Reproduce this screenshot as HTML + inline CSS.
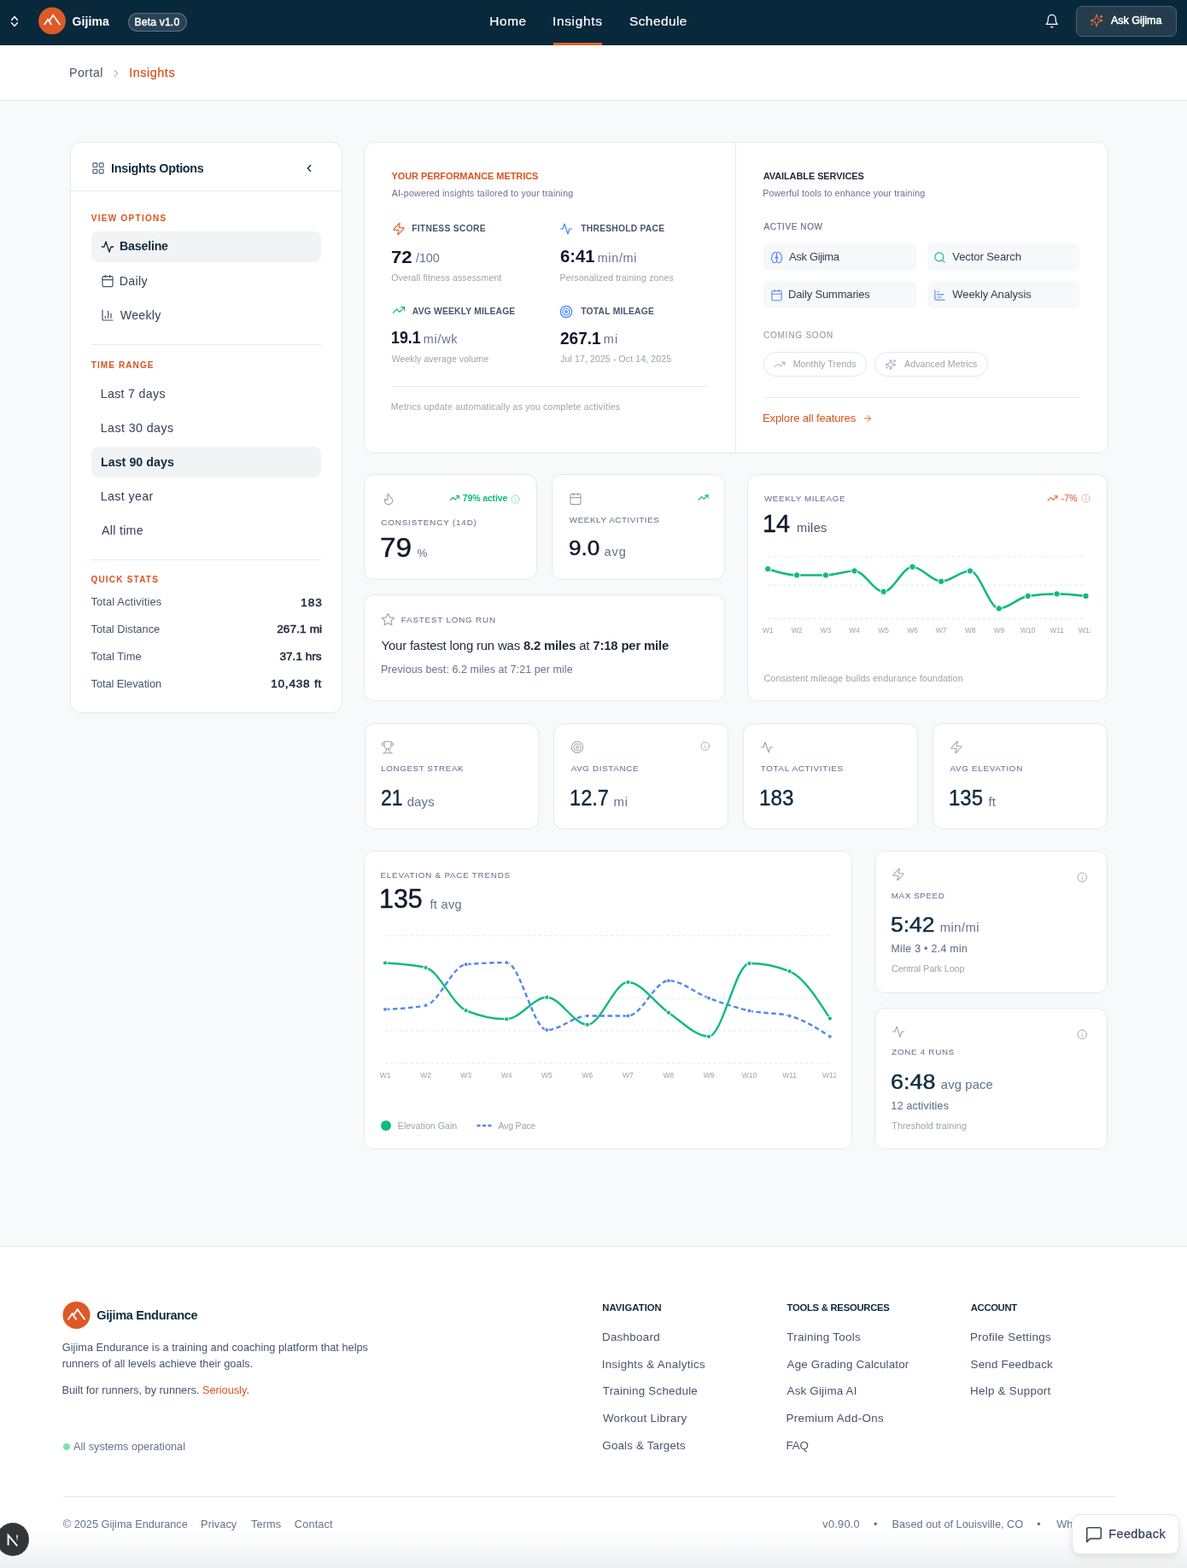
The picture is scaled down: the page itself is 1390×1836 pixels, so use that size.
<!DOCTYPE html><html><head><meta charset="utf-8"><title>Gijima Insights</title><style>
*{margin:0;padding:0;box-sizing:border-box}
html,body{width:1390px;height:1836px;overflow:hidden}
body{position:relative;background:#f8f9fb;font-family:"Liberation Sans", Arial, sans-serif;-webkit-font-smoothing:antialiased}
.t{position:absolute;line-height:1;white-space:nowrap}
.b{position:absolute}
.i{position:absolute;display:block}
b{font-weight:700}
</style></head><body>
<div class="b" style="left:0px;top:0px;width:1390px;height:53px;background:#08283c;"></div>
<svg class="i" style="left:0;top:0" width="100" height="53" viewBox="0 0 100 53" fill="none"><path d="M13.6 23.4 17 19.6l3.4 3.8M13.6 26.8 17 30.6l3.4-3.8" stroke="#fff" stroke-width="1.45" stroke-linecap="round" stroke-linejoin="round"/><circle cx="61" cy="24.4" r="15.9" fill="#dc5a28"/><path d="M51.8 29.1 56.1 22.9 60.3 29.1M57.5 24.8 62.2 17.8 70.2 29.1" stroke="#fff" stroke-width="1.75" stroke-linecap="butt" stroke-linejoin="miter"/></svg>
<div class="t" style="left:84.44px;top:17.55px;font-size:14px;color:#fff;font-weight:700;letter-spacing:0.13px;">Gijima</div>
<div class="b" style="left:150px;top:15px;width:69px;height:22px;border:1px solid rgba(255,255,255,.26);background:rgba(255,255,255,.13);border-radius:11px;"></div>
<div class="t" style="left:157.52px;top:19.87px;font-size:12.2px;color:#fff;font-weight:400;letter-spacing:0.145px;-webkit-text-stroke:0.45px #fff;">Beta v1.0</div>
<div class="t" style="left:573.37px;top:16.86px;font-size:15.4px;color:#fff;font-weight:400;letter-spacing:0.561px;-webkit-text-stroke:0.2px #fff;">Home</div>
<div class="t" style="left:646.91px;top:16.86px;font-size:15.4px;color:#fff;font-weight:400;letter-spacing:0.71px;-webkit-text-stroke:0.2px #fff;">Insights</div>
<div class="t" style="left:737.01px;top:16.86px;font-size:15.4px;color:#fff;font-weight:400;letter-spacing:0.453px;-webkit-text-stroke:0.2px #fff;">Schedule</div>
<div class="b" style="left:648px;top:49.5px;width:57px;height:3.5px;background:#e0602a;"></div>
<svg class="i" style="left:1222.8px;top:15.8px;" width="17.5" height="17.5" viewBox="0 0 24 24" fill="none" stroke="#fff" stroke-width="1.7" stroke-linecap="round" stroke-linejoin="round"><path d="M6 8a6 6 0 0 1 12 0c0 7 3 9 3 9H3s3-2 3-9"/><path d="M10.3 21a1.94 1.94 0 0 0 3.4 0"/></svg>
<div class="b" style="left:1260px;top:6.5px;width:118px;height:36.0px;background:#243c4c;border:1px solid #4e6270;border-radius:7px;"></div>
<svg class="i" style="left:1276px;top:16.2px;" width="16.2" height="16.2" viewBox="0 0 24 24" fill="none" stroke="#ee7a3c" stroke-width="1.5" stroke-linecap="round" stroke-linejoin="round"><path d="M9.937 15.5A2 2 0 0 0 8.5 14.063l-6.135-1.582a.5.5 0 0 1 0-.962L8.5 9.936A2 2 0 0 0 9.937 8.5l1.582-6.135a.5.5 0 0 1 .963 0L14.063 8.5A2 2 0 0 0 15.5 9.937l6.135 1.581a.5.5 0 0 1 0 .964L15.5 14.063a2 2 0 0 0-1.437 1.437l-1.582 6.135a.5.5 0 0 1-.963 0z"/><path d="M20 3v4M22 5h-4M4 17v2M5 18H3"/></svg>
<div class="t" style="left:1301.00px;top:17.83px;font-size:12.6px;color:#fff;font-weight:400;letter-spacing:-0.074px;-webkit-text-stroke:0.5px #fff;">Ask Gijima</div>
<div class="b" style="left:0px;top:53px;width:1390px;height:65px;background:#fff;border-bottom:1px solid #e5e7eb;"></div>
<div class="t" style="left:80.96px;top:77.88px;font-size:14.2px;color:#475569;font-weight:400;letter-spacing:0.479px;">Portal</div>
<svg class="i" style="left:129px;top:78.6px;" width="14" height="14" viewBox="0 0 24 24" fill="none" stroke="#94a3b8" stroke-width="1.8" stroke-linecap="round" stroke-linejoin="round"><path d="m9 18 6-6-6-6"/></svg>
<div class="t" style="left:151.30px;top:77.71px;font-size:14.4px;color:#d9541e;font-weight:400;letter-spacing:0.527px;-webkit-text-stroke:0.25px #d9541e;">Insights</div>
<div class="b" style="left:82px;top:166px;width:319px;height:669px;background:#fff;border:1px solid #e6e8ec;border-radius:12px;box-sizing:border-box;"></div>
<div class="b" style="left:83px;top:223px;width:317px;height:1px;background:#e8eaee;"></div>
<svg class="i" style="left:106.5px;top:188.5px;" width="16" height="16" viewBox="0 0 24 24" fill="none" stroke="#64748b" stroke-width="2" stroke-linecap="round" stroke-linejoin="round"><rect x="3" y="3" width="7" height="7" rx="1"/><rect x="14" y="3" width="7" height="7" rx="1"/><rect x="14" y="14" width="7" height="7" rx="1"/><rect x="3" y="14" width="7" height="7" rx="1"/></svg>
<div class="t" style="left:130.06px;top:189.91px;font-size:14.4px;color:#0f2a3d;font-weight:700;letter-spacing:-0.32px;">Insights Options</div>
<svg class="i" style="left:355px;top:190px;" width="14" height="14" viewBox="0 0 24 24" fill="none" stroke="#0f2a3d" stroke-width="2.2" stroke-linecap="round" stroke-linejoin="round"><path d="m15 18-6-6 6-6"/></svg>
<div class="t" style="left:106.75px;top:250.53px;font-size:10px;color:#d9541e;font-weight:700;letter-spacing:1.282px;">VIEW OPTIONS</div>
<div class="b" style="left:107px;top:271px;width:269px;height:36px;background:#f2f3f5;border-radius:8px;"></div>
<svg class="i" style="left:117.5px;top:281px;" width="16" height="16" viewBox="0 0 24 24" fill="none" stroke="#0f2a3d" stroke-width="2" stroke-linecap="round" stroke-linejoin="round"><path d="M22 12h-4l-3 9L9 3l-3 9H2"/></svg>
<div class="t" style="left:139.98px;top:281.48px;font-size:14.2px;color:#0f2a3d;font-weight:700;letter-spacing:-0.188px;">Baseline</div>
<svg class="i" style="left:117.5px;top:321.3px;" width="16" height="16" viewBox="0 0 24 24" fill="none" stroke="#475569" stroke-width="1.8" stroke-linecap="round" stroke-linejoin="round"><rect x="3" y="4" width="18" height="18" rx="2"/><path d="M16 2v4M8 2v4M3 10h18"/></svg>
<div class="t" style="left:139.76px;top:321.78px;font-size:14.2px;color:#334155;font-weight:400;letter-spacing:0.31px;">Daily</div>
<svg class="i" style="left:117.5px;top:361.3px;" width="16" height="16" viewBox="0 0 24 24" fill="none" stroke="#475569" stroke-width="1.8" stroke-linecap="round" stroke-linejoin="round"><path d="M3 3v16a2 2 0 0 0 2 2h16"/><path d="M18 17V9M13 17V5M8 17v-3"/></svg>
<div class="t" style="left:140.83px;top:361.78px;font-size:14.2px;color:#334155;font-weight:400;letter-spacing:0.256px;">Weekly</div>
<div class="b" style="left:107px;top:403px;width:269px;height:1px;background:#e8eaee;"></div>
<div class="t" style="left:106.70px;top:422.54px;font-size:10px;color:#d9541e;font-weight:700;letter-spacing:1.111px;">TIME RANGE</div>
<div class="b" style="left:107px;top:523.4px;width:269px;height:35.200000000000045px;background:#f2f3f5;border-radius:8px;"></div>
<div class="t" style="left:117.76px;top:454.18px;font-size:14.2px;color:#334155;font-weight:400;letter-spacing:0.32px;">Last 7 days</div>
<div class="t" style="left:117.76px;top:494.18px;font-size:14.2px;color:#334155;font-weight:400;letter-spacing:0.438px;">Last 30 days</div>
<div class="t" style="left:117.98px;top:534.18px;font-size:14.2px;color:#0f2a3d;font-weight:700;letter-spacing:0.063px;">Last 90 days</div>
<div class="t" style="left:117.76px;top:574.18px;font-size:14.2px;color:#334155;font-weight:400;letter-spacing:0.398px;">Last year</div>
<div class="t" style="left:118.90px;top:614.18px;font-size:14.2px;color:#334155;font-weight:400;letter-spacing:0.319px;">All time</div>
<div class="b" style="left:107px;top:655px;width:269px;height:1px;background:#e8eaee;"></div>
<div class="t" style="left:106.40px;top:674.24px;font-size:10px;color:#d9541e;font-weight:700;letter-spacing:1.215px;">QUICK STATS</div>
<div class="t" style="left:106.54px;top:699.18px;font-size:12.9px;color:#475569;font-weight:400;letter-spacing:0.113px;">Total Activities</div>
<div class="t" style="right:1012.30px;top:698.59px;font-size:13.6px;color:#1e293b;font-weight:400;letter-spacing:0.91px;-webkit-text-stroke:0.55px #1e293b;">183</div>
<div class="t" style="left:106.54px;top:731.08px;font-size:12.9px;color:#475569;font-weight:400;letter-spacing:-0.021px;">Total Distance</div>
<div class="t" style="right:1012.79px;top:730.49px;font-size:13.6px;color:#1e293b;font-weight:400;letter-spacing:0.115px;-webkit-text-stroke:0.55px #1e293b;">267.1 mi</div>
<div class="t" style="left:106.54px;top:763.08px;font-size:12.9px;color:#475569;font-weight:400;letter-spacing:0.042px;">Total Time</div>
<div class="t" style="right:1013.34px;top:762.49px;font-size:13.6px;color:#1e293b;font-weight:400;letter-spacing:0.008px;-webkit-text-stroke:0.55px #1e293b;">37.1 hrs</div>
<div class="t" style="left:106.54px;top:794.78px;font-size:12.9px;color:#475569;font-weight:400;letter-spacing:-0.087px;">Total Elevation</div>
<div class="t" style="right:1012.93px;top:794.19px;font-size:13.6px;color:#1e293b;font-weight:400;letter-spacing:0.773px;-webkit-text-stroke:0.55px #1e293b;">10,438 ft</div>
<div class="b" style="left:426px;top:166px;width:872px;height:365px;background:#fff;border:1px solid #e6e8ec;border-radius:12px;box-sizing:border-box;"></div>
<div class="b" style="left:861px;top:167px;width:1px;height:363px;background:#e8eaee;"></div>
<div class="t" style="left:458.48px;top:201.39px;font-size:11px;color:#d9541e;font-weight:700;letter-spacing:-0.07px;">YOUR PERFORMANCE METRICS</div>
<div class="t" style="left:458.70px;top:220.94px;font-size:10.7px;color:#64748b;font-weight:400;letter-spacing:0.158px;">AI-powered insights tailored to your training</div>
<svg class="i" style="left:458.6px;top:259.5px;" width="16" height="16" viewBox="0 0 24 24" fill="none" stroke="#e8663a" stroke-width="1.8" stroke-linecap="round" stroke-linejoin="round"><path d="M4 14a1 1 0 0 1-.78-1.63l9.9-10.2a.5.5 0 0 1 .86.46l-1.92 6.02A1 1 0 0 0 13 10h7a1 1 0 0 1 .78 1.63l-9.9 10.2a.5.5 0 0 1-.86-.46l1.92-6.02A1 1 0 0 0 11 14z"/></svg>
<div class="t" style="left:482.13px;top:262.98px;font-size:10.3px;color:#475569;font-weight:700;letter-spacing:0.289px;">FITNESS SCORE</div>
<div class="t" style="left:457.81px;top:289.62px;font-size:21px;color:#0f172a;font-weight:700;transform:scaleX(1.0541);transform-origin:0 0;">72</div>
<div class="t" style="left:487.00px;top:295.21px;font-size:14.4px;color:#64748b;font-weight:400;letter-spacing:-0.068px;">/100</div>
<div class="t" style="left:458.23px;top:320.11px;font-size:10.5px;color:#9ca3af;font-weight:400;letter-spacing:0.144px;">Overall fitness assessment</div>
<svg class="i" style="left:655.3px;top:259.5px;" width="16" height="16" viewBox="0 0 24 24" fill="none" stroke="#3b82f6" stroke-width="1.8" stroke-linecap="round" stroke-linejoin="round"><path d="M22 12h-4l-3 9L9 3l-3 9H2"/></svg>
<div class="t" style="left:680.30px;top:262.78px;font-size:10.3px;color:#475569;font-weight:700;letter-spacing:0.231px;">THRESHOLD PACE</div>
<div class="t" style="left:655.59px;top:289.42px;font-size:21px;color:#0f172a;font-weight:700;transform:scaleX(0.9671);transform-origin:0 0;">6:41</div>
<div class="t" style="left:699.66px;top:295.01px;font-size:14.4px;color:#64748b;font-weight:400;letter-spacing:0.687px;">min/mi</div>
<div class="t" style="left:655.46px;top:320.11px;font-size:10.5px;color:#9ca3af;font-weight:400;letter-spacing:0.17px;">Personalized training zones</div>
<svg class="i" style="left:458.6px;top:355px;" width="16" height="16" viewBox="0 0 24 24" fill="none" stroke="#10b981" stroke-width="1.8" stroke-linecap="round" stroke-linejoin="round"><path d="M22 7 13.5 15.5 8.5 10.5 2 17"/><path d="M16 7h6v6"/></svg>
<div class="t" style="left:482.84px;top:360.08px;font-size:10.3px;color:#475569;font-weight:700;letter-spacing:0.195px;">AVG WEEKLY MILEAGE</div>
<div class="t" style="left:457.73px;top:384.42px;font-size:21px;color:#0f172a;font-weight:700;transform:scaleX(0.8474);transform-origin:0 0;">19.1</div>
<div class="t" style="left:495.76px;top:390.01px;font-size:14.4px;color:#64748b;font-weight:400;letter-spacing:0.761px;">mi/wk</div>
<div class="t" style="left:458.75px;top:414.91px;font-size:10.5px;color:#9ca3af;font-weight:400;letter-spacing:0.07px;">Weekly average volume</div>
<svg class="i" style="left:655.3px;top:356.5px;" width="16" height="16" viewBox="0 0 24 24" fill="none" stroke="#3b82f6" stroke-width="1.8" stroke-linecap="round" stroke-linejoin="round"><circle cx="12" cy="12" r="10"/><circle cx="12" cy="12" r="6"/><circle cx="12" cy="12" r="2"/></svg>
<div class="t" style="left:680.30px;top:359.68px;font-size:10.3px;color:#475569;font-weight:700;letter-spacing:0.216px;">TOTAL MILEAGE</div>
<div class="t" style="left:655.63px;top:384.52px;font-size:21px;color:#0f172a;font-weight:700;transform:scaleX(0.9075);transform-origin:0 0;">267.1</div>
<div class="t" style="left:706.76px;top:390.11px;font-size:14.4px;color:#64748b;font-weight:400;letter-spacing:1.28px;">mi</div>
<div class="t" style="left:656.14px;top:415.21px;font-size:10.5px;color:#9ca3af;font-weight:400;letter-spacing:0.125px;">Jul 17, 2025 - Oct 14, 2025</div>
<div class="b" style="left:458px;top:452px;width:371px;height:1px;background:#eceef1;"></div>
<div class="t" style="left:457.86px;top:470.91px;font-size:10.5px;color:#9ca3af;font-weight:400;letter-spacing:0.233px;">Metrics update automatically as you complete activities</div>
<div class="t" style="left:893.73px;top:201.49px;font-size:11px;color:#1e293b;font-weight:700;letter-spacing:-0.096px;">AVAILABLE SERVICES</div>
<div class="t" style="left:893.14px;top:221.14px;font-size:10.7px;color:#64748b;font-weight:400;letter-spacing:0.14px;">Powerful tools to enhance your training</div>
<div class="t" style="left:894.40px;top:260.84px;font-size:10px;color:#64748b;font-weight:400;letter-spacing:0.578px;-webkit-text-stroke:0.2px #64748b;">ACTIVE NOW</div>
<div class="b" style="left:894.4px;top:285.4px;width:178.5000000000001px;height:31.5px;background:#f7f8fa;border-radius:7px;"></div>
<svg class="i" style="left:901.9px;top:293.9px;" width="15" height="15" viewBox="0 0 24 24" fill="none" stroke="#5b8def" stroke-width="1.8" stroke-linecap="round" stroke-linejoin="round"><path d="M12 5a3 3 0 1 0-5.997.125 4 4 0 0 0-2.526 5.77 4 4 0 0 0 .556 6.588A4 4 0 1 0 12 18Z"/><path d="M12 5a3 3 0 1 1 5.997.125 4 4 0 0 1 2.526 5.77 4 4 0 0 1-.556 6.588A4 4 0 1 1 12 18Z"/><path d="M15 13a4.5 4.5 0 0 1-3-4 4.5 4.5 0 0 1-3 4"/><path d="M12 5v13"/></svg>
<div class="t" style="left:924.00px;top:294.40px;font-size:13px;color:#334155;font-weight:400;letter-spacing:-0.342px;">Ask Gijima</div>
<div class="b" style="left:1085.8px;top:285.4px;width:178.5px;height:31.5px;background:#f7f8fa;border-radius:7px;"></div>
<svg class="i" style="left:1093.3px;top:293.9px;" width="15" height="15" viewBox="0 0 24 24" fill="none" stroke="#10b981" stroke-width="1.8" stroke-linecap="round" stroke-linejoin="round"><circle cx="11" cy="11" r="8"/><path d="m21 21-4.3-4.3"/></svg>
<div class="t" style="left:1115.33px;top:294.40px;font-size:13px;color:#334155;font-weight:400;letter-spacing:-0.086px;">Vector Search</div>
<div class="b" style="left:894.4px;top:329.1px;width:178.5000000000001px;height:31.5px;background:#f7f8fa;border-radius:7px;"></div>
<svg class="i" style="left:901.9px;top:337.6px;" width="15" height="15" viewBox="0 0 24 24" fill="none" stroke="#5b8def" stroke-width="1.8" stroke-linecap="round" stroke-linejoin="round"><rect x="3" y="4" width="18" height="18" rx="2"/><path d="M16 2v4M8 2v4M3 10h18"/></svg>
<div class="t" style="left:922.96px;top:338.10px;font-size:13px;color:#334155;font-weight:400;letter-spacing:-0.166px;">Daily Summaries</div>
<div class="b" style="left:1085.8px;top:329.1px;width:178.5px;height:31.5px;background:#f7f8fa;border-radius:7px;"></div>
<svg class="i" style="left:1093.3px;top:337.6px;" width="15" height="15" viewBox="0 0 24 24" fill="none" stroke="#5b8def" stroke-width="1.8" stroke-linecap="round" stroke-linejoin="round"><path d="M3 3v16a2 2 0 0 0 2 2h16"/><path d="M7 16h8M7 11h12M7 6h3"/></svg>
<div class="t" style="left:1115.33px;top:338.10px;font-size:13px;color:#334155;font-weight:400;letter-spacing:-0.096px;">Weekly Analysis</div>
<div class="t" style="left:893.90px;top:387.74px;font-size:10px;color:#9ca3af;font-weight:400;letter-spacing:0.8px;-webkit-text-stroke:0.2px #9ca3af;">COMING SOON</div>
<div class="b" style="left:894.4px;top:412px;width:120.89999999999998px;height:28.5px;border:1px solid #e5e7eb;border-radius:15px;background:#fff;"></div>
<svg class="i" style="left:906px;top:419.5px;" width="14" height="14" viewBox="0 0 24 24" fill="none" stroke="#94a3b8" stroke-width="1.6" stroke-linecap="round" stroke-linejoin="round"><path d="M22 7 13.5 15.5 8.5 10.5 2 17"/><path d="M16 7h6v6"/></svg>
<div class="t" style="left:928.64px;top:421.24px;font-size:10.7px;color:#9ca3af;font-weight:400;letter-spacing:0.069px;">Monthly Trends</div>
<div class="b" style="left:1023.9px;top:412px;width:133.19999999999993px;height:28.5px;border:1px solid #e5e7eb;border-radius:15px;background:#fff;"></div>
<svg class="i" style="left:1036px;top:419.5px;" width="14" height="14" viewBox="0 0 24 24" fill="none" stroke="#94a3b8" stroke-width="1.6" stroke-linecap="round" stroke-linejoin="round"><path d="M9.937 15.5A2 2 0 0 0 8.5 14.063l-6.135-1.582a.5.5 0 0 1 0-.962L8.5 9.936A2 2 0 0 0 9.937 8.5l1.582-6.135a.5.5 0 0 1 .963 0L14.063 8.5A2 2 0 0 0 15.5 9.937l6.135 1.581a.5.5 0 0 1 0 .964L15.5 14.063a2 2 0 0 0-1.437 1.437l-1.582 6.135a.5.5 0 0 1-.963 0z"/><path d="M20 3v4M22 5h-4M4 17v2M5 18H3"/></svg>
<div class="t" style="left:1059.00px;top:421.24px;font-size:10.7px;color:#9ca3af;font-weight:400;letter-spacing:0.034px;">Advanced Metrics</div>
<div class="b" style="left:894px;top:465px;width:371px;height:1px;background:#eceef1;"></div>
<div class="t" style="left:892.95px;top:483.31px;font-size:13.1px;color:#d9541e;font-weight:400;letter-spacing:-0.149px;">Explore all features</div>
<svg class="i" style="left:1010px;top:483.5px;" width="12" height="12" viewBox="0 0 24 24" fill="none" stroke="#d9541e" stroke-width="1.9" stroke-linecap="round" stroke-linejoin="round"><path d="M5 12h14M12 5l7 7-7 7"/></svg>
<div class="b" style="left:426.3px;top:555.4px;width:202.7px;height:123.60000000000002px;background:#fff;border:1px solid #e6e8ec;border-radius:12px;box-sizing:border-box;"></div>
<svg class="i" style="left:446.5px;top:575.5px;" width="16" height="16" viewBox="0 0 24 24" fill="none" stroke="#9ca3af" stroke-width="1.7" stroke-linecap="round" stroke-linejoin="round"><path d="M8.5 14.5A2.5 2.5 0 0 0 11 12c0-1.38-.5-2-1-3-1.072-2.143-.224-4.054 2-6 .5 2.5 2 4.9 4 6.5 2 1.6 3 3.5 3 5.5a7 7 0 1 1-14 0c0-1.153.433-2.294 1-3a2.5 2.5 0 0 0 2.5 2.5z"/></svg>
<svg class="i" style="left:526px;top:577px;" width="12.5" height="12.5" viewBox="0 0 24 24" fill="none" stroke="#10b981" stroke-width="2.2" stroke-linecap="round" stroke-linejoin="round"><path d="M22 7 13.5 15.5 8.5 10.5 2 17"/><path d="M16 7h6v6"/></svg>
<div class="t" style="left:541.78px;top:578.01px;font-size:10.5px;color:#10b981;font-weight:700;letter-spacing:-0.13px;">79% active</div>
<svg class="i" style="left:597.8px;top:579.2px;" width="11.2" height="11.2" viewBox="0 0 24 24" fill="none" stroke="#6ee7b7" stroke-width="1.8" stroke-linecap="round" stroke-linejoin="round"><circle cx="12" cy="12" r="10"/><path d="M12 16v-4M12 8h.01"/></svg>
<div class="t" style="left:446.31px;top:607.10px;font-size:9.8px;color:#64748b;font-weight:400;letter-spacing:0.861px;-webkit-text-stroke:0.05px #64748b;">CONSISTENCY (14D)</div>
<div class="t" style="left:445.23px;top:625.76px;font-size:31px;color:#0f172a;font-weight:400;-webkit-text-stroke:0.45px #0f172a;transform:scaleX(1.0774);transform-origin:0 0;">79</div>
<div class="t" style="left:488.53px;top:640.57px;font-size:13.5px;color:#64748b;font-weight:400;letter-spacing:-0.07px;">%</div>
<div class="b" style="left:646.3px;top:555.4px;width:202.70000000000005px;height:123.60000000000002px;background:#fff;border:1px solid #e6e8ec;border-radius:12px;box-sizing:border-box;"></div>
<svg class="i" style="left:665.5px;top:575.5px;" width="16" height="16" viewBox="0 0 24 24" fill="none" stroke="#9ca3af" stroke-width="1.7" stroke-linecap="round" stroke-linejoin="round"><rect x="3" y="4" width="18" height="18" rx="2"/><path d="M16 2v4M8 2v4M3 10h18"/></svg>
<svg class="i" style="left:816.5px;top:575.5px;" width="13" height="13" viewBox="0 0 24 24" fill="none" stroke="#10b981" stroke-width="2.2" stroke-linecap="round" stroke-linejoin="round"><path d="M22 7 13.5 15.5 8.5 10.5 2 17"/><path d="M16 7h6v6"/></svg>
<div class="t" style="left:666.85px;top:603.70px;font-size:9.8px;color:#64748b;font-weight:400;letter-spacing:0.596px;-webkit-text-stroke:0.05px #64748b;">WEEKLY ACTIVITIES</div>
<div class="t" style="left:665.73px;top:630.41px;font-size:24.8px;color:#0f172a;font-weight:400;-webkit-text-stroke:0.4px #0f172a;transform:scaleX(1.0527);transform-origin:0 0;">9.0</div>
<div class="t" style="left:707.42px;top:639.04px;font-size:14.6px;color:#64748b;font-weight:400;letter-spacing:0.914px;">avg</div>
<div class="b" style="left:426.3px;top:696.3px;width:422.7px;height:125.20000000000005px;background:#fff;border:1px solid #e6e8ec;border-radius:12px;box-sizing:border-box;"></div>
<svg class="i" style="left:445.8px;top:716.5px;" width="17" height="17" viewBox="0 0 24 24" fill="none" stroke="#9ca3af" stroke-width="1.6" stroke-linecap="round" stroke-linejoin="round"><path d="M12 2l3.09 6.26L22 9.27l-5 4.87 1.18 6.88L12 17.77l-6.18 3.25L7 14.14 2 9.27l6.91-1.01L12 2z"/></svg>
<div class="t" style="left:469.82px;top:720.80px;font-size:9.8px;color:#64748b;font-weight:400;letter-spacing:0.824px;-webkit-text-stroke:0.05px #64748b;">FASTEST LONG RUN</div>
<div class="t" style="left:446.53px;top:748.59px;font-size:14.9px;color:#1e293b;font-weight:400;letter-spacing:-0.17px;">Your fastest long run was <b>8.2 miles</b> at <b>7:18 per mile</b></div>
<div class="t" style="left:445.90px;top:777.52px;font-size:12.5px;color:#64748b;font-weight:400;letter-spacing:0.059px;">Previous best: 6.2 miles at 7:21 per mile</div>
<div class="b" style="left:874.5px;top:555.4px;width:422.70000000000005px;height:266.1px;background:#fff;border:1px solid #e6e8ec;border-radius:12px;box-sizing:border-box;"></div>
<div class="t" style="left:894.95px;top:579.20px;font-size:9.8px;color:#64748b;font-weight:400;letter-spacing:0.639px;-webkit-text-stroke:0.05px #64748b;">WEEKLY MILEAGE</div>
<div class="t" style="left:892.83px;top:598.11px;font-size:30px;color:#0f172a;font-weight:400;-webkit-text-stroke:0.45px #0f172a;transform:scaleX(0.9637);transform-origin:0 0;">14</div>
<div class="t" style="left:933.05px;top:611.14px;font-size:14.6px;color:#475569;font-weight:400;letter-spacing:0.317px;">miles</div>
<svg class="i" style="left:1225.8px;top:577.3px;" width="13" height="13" viewBox="0 0 24 24" fill="none" stroke="#e8663a" stroke-width="2.1" stroke-linecap="round" stroke-linejoin="round"><path d="M22 7 13.5 15.5 8.5 10.5 2 17"/><path d="M16 7h6v6"/></svg>
<div class="t" style="left:1242.53px;top:578.11px;font-size:10.5px;color:#e8663a;font-weight:400;letter-spacing:0.225px;-webkit-text-stroke:0.15px #e8663a;">-7%</div>
<svg class="i" style="left:1265.7px;top:577.8px;" width="11" height="11" viewBox="0 0 24 24" fill="none" stroke="#f0a080" stroke-width="1.8" stroke-linecap="round" stroke-linejoin="round"><circle cx="12" cy="12" r="10"/><path d="M12 16v-4M12 8h.01"/></svg>
<div class="b" style="left:880px;top:730.1px;width:396.5px;height:16px;overflow:hidden">
<div class="t" style="left:-0.7999999999999545px;width:40px;text-align:center;top:3.75px;font-size:8.5px;color:#9ca3af">W1</div>
<div class="t" style="left:33.10000000000002px;width:40px;text-align:center;top:3.75px;font-size:8.5px;color:#9ca3af">W2</div>
<div class="t" style="left:66.89999999999998px;width:40px;text-align:center;top:3.75px;font-size:8.5px;color:#9ca3af">W3</div>
<div class="t" style="left:100.5px;width:40px;text-align:center;top:3.75px;font-size:8.5px;color:#9ca3af">W4</div>
<div class="t" style="left:134.70000000000005px;width:40px;text-align:center;top:3.75px;font-size:8.5px;color:#9ca3af">W5</div>
<div class="t" style="left:168.5px;width:40px;text-align:center;top:3.75px;font-size:8.5px;color:#9ca3af">W6</div>
<div class="t" style="left:202.0999999999999px;width:40px;text-align:center;top:3.75px;font-size:8.5px;color:#9ca3af">W7</div>
<div class="t" style="left:236px;width:40px;text-align:center;top:3.75px;font-size:8.5px;color:#9ca3af">W8</div>
<div class="t" style="left:269.79999999999995px;width:40px;text-align:center;top:3.75px;font-size:8.5px;color:#9ca3af">W9</div>
<div class="t" style="left:303.70000000000005px;width:40px;text-align:center;top:3.75px;font-size:8.5px;color:#9ca3af">W10</div>
<div class="t" style="left:337.5999999999999px;width:40px;text-align:center;top:3.75px;font-size:8.5px;color:#9ca3af">W11</div>
<div class="t" style="left:371.5px;width:40px;text-align:center;top:3.75px;font-size:8.5px;color:#9ca3af">W12</div>
</div>
<div class="t" style="left:894.46px;top:788.86px;font-size:10.8px;color:#9ca3af;font-weight:400;letter-spacing:0.06px;">Consistent mileage builds endurance foundation</div>
<div class="b" style="left:426.5px;top:847.1px;width:204.60000000000002px;height:123.5px;background:#fff;border:1px solid #e6e8ec;border-radius:12px;box-sizing:border-box;"></div>
<svg class="i" style="left:446.0px;top:867px;" width="16" height="16" viewBox="0 0 24 24" fill="none" stroke="#9ca3af" stroke-width="1.6" stroke-linecap="round" stroke-linejoin="round"><path d="M6 9H4.5a2.5 2.5 0 0 1 0-5H6M18 9h1.5a2.5 2.5 0 0 0 0-5H18M4 22h16M10 14.66V17c0 .55-.47.98-.97 1.21C7.85 18.75 7 20.24 7 22M14 14.66V17c0 .55.47.98.97 1.21C16.15 18.75 17 20.24 17 22M18 2H6v7a6 6 0 0 0 12 0V2Z"/></svg>
<div class="t" style="left:446.22px;top:894.70px;font-size:9.8px;color:#64748b;font-weight:400;letter-spacing:0.599px;-webkit-text-stroke:0.05px #64748b;">LONGEST STREAK</div>
<div class="t" style="left:445.95px;top:921.34px;font-size:26.3px;color:#0f2a3d;font-weight:400;-webkit-text-stroke:0.4px #0f2a3d;transform:scaleX(0.8728);transform-origin:0 0;">21</div>
<div class="t" style="left:476.70px;top:930.90px;font-size:15px;color:#64748b;font-weight:400;letter-spacing:0.092px;">days</div>
<div class="b" style="left:648.2px;top:847.1px;width:205.0px;height:123.5px;background:#fff;border:1px solid #e6e8ec;border-radius:12px;box-sizing:border-box;"></div>
<svg class="i" style="left:667.7px;top:867px;" width="16" height="16" viewBox="0 0 24 24" fill="none" stroke="#9ca3af" stroke-width="1.6" stroke-linecap="round" stroke-linejoin="round"><circle cx="12" cy="12" r="10"/><circle cx="12" cy="12" r="6"/><circle cx="12" cy="12" r="2"/></svg>
<div class="t" style="left:668.70px;top:894.70px;font-size:9.8px;color:#64748b;font-weight:400;letter-spacing:0.664px;-webkit-text-stroke:0.05px #64748b;">AVG DISTANCE</div>
<div class="t" style="left:667.03px;top:921.34px;font-size:26.3px;color:#0f2a3d;font-weight:400;-webkit-text-stroke:0.4px #0f2a3d;transform:scaleX(0.8983);transform-origin:0 0;">12.7</div>
<div class="t" style="left:718.52px;top:930.90px;font-size:15px;color:#64748b;font-weight:400;letter-spacing:0.625px;">mi</div>
<svg class="i" style="left:820.4000000000001px;top:867.5px;" width="11.5" height="11.5" viewBox="0 0 24 24" fill="none" stroke="#9ca3af" stroke-width="1.8" stroke-linecap="round" stroke-linejoin="round"><circle cx="12" cy="12" r="10"/><path d="M12 16v-4M12 8h.01"/></svg>
<div class="b" style="left:870.4px;top:847.1px;width:204.19999999999993px;height:123.5px;background:#fff;border:1px solid #e6e8ec;border-radius:12px;box-sizing:border-box;"></div>
<svg class="i" style="left:889.9px;top:867px;" width="16" height="16" viewBox="0 0 24 24" fill="none" stroke="#9ca3af" stroke-width="1.6" stroke-linecap="round" stroke-linejoin="round"><path d="M22 12h-4l-3 9L9 3l-3 9H2"/></svg>
<div class="t" style="left:890.70px;top:894.70px;font-size:9.8px;color:#64748b;font-weight:400;letter-spacing:0.706px;-webkit-text-stroke:0.05px #64748b;">TOTAL ACTIVITIES</div>
<div class="t" style="left:889.18px;top:921.34px;font-size:26.3px;color:#0f2a3d;font-weight:400;-webkit-text-stroke:0.4px #0f2a3d;transform:scaleX(0.9224);transform-origin:0 0;">183</div>
<div class="b" style="left:1092.1px;top:847.1px;width:204.9000000000001px;height:123.5px;background:#fff;border:1px solid #e6e8ec;border-radius:12px;box-sizing:border-box;"></div>
<svg class="i" style="left:1111.6px;top:867px;" width="16" height="16" viewBox="0 0 24 24" fill="none" stroke="#9ca3af" stroke-width="1.6" stroke-linecap="round" stroke-linejoin="round"><path d="M4 14a1 1 0 0 1-.78-1.63l9.9-10.2a.5.5 0 0 1 .86.46l-1.92 6.02A1 1 0 0 0 13 10h7a1 1 0 0 1 .78 1.63l-9.9 10.2a.5.5 0 0 1-.86-.46l1.92-6.02A1 1 0 0 0 11 14z"/></svg>
<div class="t" style="left:1112.60px;top:894.70px;font-size:9.8px;color:#64748b;font-weight:400;letter-spacing:0.703px;-webkit-text-stroke:0.05px #64748b;">AVG ELEVATION</div>
<div class="t" style="left:1110.90px;top:921.34px;font-size:26.3px;color:#0f2a3d;font-weight:400;-webkit-text-stroke:0.4px #0f2a3d;transform:scaleX(0.9125);transform-origin:0 0;">135</div>
<div class="t" style="left:1157.58px;top:930.90px;font-size:15px;color:#64748b;font-weight:400;letter-spacing:0.075px;">ft</div>
<div class="b" style="left:425.9px;top:995.9px;width:572.2px;height:349.9px;background:#fff;border:1px solid #e6e8ec;border-radius:12px;box-sizing:border-box;"></div>
<div class="t" style="left:445.52px;top:1019.50px;font-size:9.8px;color:#64748b;font-weight:400;letter-spacing:0.783px;-webkit-text-stroke:0.05px #64748b;">ELEVATION &amp; PACE TRENDS</div>
<div class="t" style="left:444.02px;top:1038.23px;font-size:30.8px;color:#0f172a;font-weight:400;-webkit-text-stroke:0.45px #0f172a;transform:scaleX(0.9866);transform-origin:0 0;">135</div>
<div class="t" style="left:503.38px;top:1051.94px;font-size:14.6px;color:#64748b;font-weight:400;letter-spacing:0.314px;">ft avg</div>
<div class="b" style="left:440px;top:1251.2px;width:538.5px;height:16px;overflow:hidden">
<div class="t" style="left:-9px;width:40px;text-align:center;top:3.75px;font-size:8.5px;color:#9ca3af">W1</div>
<div class="t" style="left:38.5px;width:40px;text-align:center;top:3.75px;font-size:8.5px;color:#9ca3af">W2</div>
<div class="t" style="left:85.60000000000002px;width:40px;text-align:center;top:3.75px;font-size:8.5px;color:#9ca3af">W3</div>
<div class="t" style="left:133.20000000000005px;width:40px;text-align:center;top:3.75px;font-size:8.5px;color:#9ca3af">W4</div>
<div class="t" style="left:180.29999999999995px;width:40px;text-align:center;top:3.75px;font-size:8.5px;color:#9ca3af">W5</div>
<div class="t" style="left:227.79999999999995px;width:40px;text-align:center;top:3.75px;font-size:8.5px;color:#9ca3af">W6</div>
<div class="t" style="left:275.4px;width:40px;text-align:center;top:3.75px;font-size:8.5px;color:#9ca3af">W7</div>
<div class="t" style="left:322.9px;width:40px;text-align:center;top:3.75px;font-size:8.5px;color:#9ca3af">W8</div>
<div class="t" style="left:370px;width:40px;text-align:center;top:3.75px;font-size:8.5px;color:#9ca3af">W9</div>
<div class="t" style="left:417.5px;width:40px;text-align:center;top:3.75px;font-size:8.5px;color:#9ca3af">W10</div>
<div class="t" style="left:464.70000000000005px;width:40px;text-align:center;top:3.75px;font-size:8.5px;color:#9ca3af">W11</div>
<div class="t" style="left:511.79999999999995px;width:40px;text-align:center;top:3.75px;font-size:8.5px;color:#9ca3af">W12</div>
</div>
<div class="b" style="left:446.3px;top:1312px;width:12.0px;height:12px;background:#10b981;border-radius:50%;"></div>
<div class="t" style="left:465.85px;top:1312.83px;font-size:10.6px;color:#9ca3af;font-weight:400;letter-spacing:0.037px;">Elevation Gain</div>
<svg class="i" style="left:558px;top:1316px" width="18" height="4" viewBox="0 0 18 4"><path d="M0.5 2H17.5" stroke="#4f86ee" stroke-width="2.4" stroke-dasharray="4 2.5"/></svg>
<div class="t" style="left:583.40px;top:1312.83px;font-size:10.6px;color:#9ca3af;font-weight:400;letter-spacing:-0.197px;">Avg Pace</div>
<div class="b" style="left:1023.6px;top:996px;width:273.1px;height:166.70000000000005px;background:#fff;border:1px solid #e6e8ec;border-radius:12px;box-sizing:border-box;"></div>
<svg class="i" style="left:1043.5px;top:1016px;" width="16" height="16" viewBox="0 0 24 24" fill="none" stroke="#9ca3af" stroke-width="1.6" stroke-linecap="round" stroke-linejoin="round"><path d="M4 14a1 1 0 0 1-.78-1.63l9.9-10.2a.5.5 0 0 1 .86.46l-1.92 6.02A1 1 0 0 0 13 10h7a1 1 0 0 1 .78 1.63l-9.9 10.2a.5.5 0 0 1-.86-.46l1.92-6.02A1 1 0 0 0 11 14z"/></svg>
<svg class="i" style="left:1261.2px;top:1021px;" width="12.5" height="12.5" viewBox="0 0 24 24" fill="none" stroke="#9ca3af" stroke-width="1.8" stroke-linecap="round" stroke-linejoin="round"><circle cx="12" cy="12" r="10"/><path d="M12 16v-4M12 8h.01"/></svg>
<div class="t" style="left:1043.72px;top:1043.70px;font-size:9.8px;color:#64748b;font-weight:400;letter-spacing:0.618px;-webkit-text-stroke:0.05px #64748b;">MAX SPEED</div>
<div class="t" style="left:1043.44px;top:1071.06px;font-size:24.5px;color:#0f2a3d;font-weight:400;-webkit-text-stroke:0.4px #0f2a3d;transform:scaleX(1.0826);transform-origin:0 0;">5:42</div>
<div class="t" style="left:1100.74px;top:1079.27px;font-size:14.8px;color:#64748b;font-weight:400;letter-spacing:0.442px;">min/mi</div>
<div class="t" style="left:1043.52px;top:1105.39px;font-size:12.3px;color:#64748b;font-weight:400;letter-spacing:0.335px;-webkit-text-stroke:0.1px #64748b;">Mile 3 &bull; 2.4 min</div>
<div class="t" style="left:1043.96px;top:1129.36px;font-size:10.8px;color:#9ca3af;font-weight:400;letter-spacing:-0.092px;">Central Park Loop</div>
<div class="b" style="left:1023.6px;top:1179.5px;width:273.1px;height:166.5999999999999px;background:#fff;border:1px solid #e6e8ec;border-radius:12px;box-sizing:border-box;"></div>
<svg class="i" style="left:1043.5px;top:1199.5px;" width="16" height="16" viewBox="0 0 24 24" fill="none" stroke="#9ca3af" stroke-width="1.6" stroke-linecap="round" stroke-linejoin="round"><path d="M22 12h-4l-3 9L9 3l-3 9H2"/></svg>
<svg class="i" style="left:1261.2px;top:1204.5px;" width="12.5" height="12.5" viewBox="0 0 24 24" fill="none" stroke="#9ca3af" stroke-width="1.8" stroke-linecap="round" stroke-linejoin="round"><circle cx="12" cy="12" r="10"/><path d="M12 16v-4M12 8h.01"/></svg>
<div class="t" style="left:1044.21px;top:1227.20px;font-size:9.8px;color:#64748b;font-weight:400;letter-spacing:0.718px;-webkit-text-stroke:0.05px #64748b;">ZONE 4 RUNS</div>
<div class="t" style="left:1043.15px;top:1254.56px;font-size:24.5px;color:#0f2a3d;font-weight:400;-webkit-text-stroke:0.4px #0f2a3d;transform:scaleX(1.1024);transform-origin:0 0;">6:48</div>
<div class="t" style="left:1101.81px;top:1262.77px;font-size:14.8px;color:#64748b;font-weight:400;letter-spacing:0.139px;">avg pace</div>
<div class="t" style="left:1043.58px;top:1288.89px;font-size:12.3px;color:#64748b;font-weight:400;letter-spacing:0.249px;-webkit-text-stroke:0.1px #64748b;">12 activities</div>
<div class="t" style="left:1044.28px;top:1312.86px;font-size:10.8px;color:#9ca3af;font-weight:400;letter-spacing:0.074px;">Threshold training</div>
<svg class="i" style="left:0;top:0" width="1390" height="1836" viewBox="0 0 1390 1836" fill="none"><path d="M899 651.7H1269" stroke="#e3e6ea" stroke-width="1" stroke-dasharray="3 3"/><path d="M899 685.2H1269" stroke="#e3e6ea" stroke-width="1" stroke-dasharray="3 3"/><path d="M899 724.5H1269" stroke="#e3e6ea" stroke-width="1" stroke-dasharray="3 3"/><path d="M899.20,666.20C910.50,669.85 921.80,673.50 933.10,673.50C944.37,673.50 955.63,673.50 966.90,673.50C978.10,673.50 989.30,668.50 1000.50,668.50C1011.90,668.50 1023.30,692.80 1034.70,692.80C1045.97,692.80 1057.23,663.70 1068.50,663.70C1079.70,663.70 1090.90,680.80 1102.10,680.80C1113.40,680.80 1124.70,668.50 1136.00,668.50C1147.27,668.50 1158.53,712.50 1169.80,712.50C1181.10,712.50 1192.40,699.57 1203.70,697.90C1215.00,696.23 1226.30,695.40 1237.60,695.40C1248.90,695.40 1260.20,696.65 1271.50,697.90" stroke="#10b981" stroke-width="2.6"/><circle cx="899.2" cy="666.2" r="3.7" fill="#10b981" stroke="#fff" stroke-width="1"/><circle cx="933.1" cy="673.5" r="3.7" fill="#10b981" stroke="#fff" stroke-width="1"/><circle cx="966.9" cy="673.5" r="3.7" fill="#10b981" stroke="#fff" stroke-width="1"/><circle cx="1000.5" cy="668.5" r="3.7" fill="#10b981" stroke="#fff" stroke-width="1"/><circle cx="1034.7" cy="692.8" r="3.7" fill="#10b981" stroke="#fff" stroke-width="1"/><circle cx="1068.5" cy="663.7" r="3.7" fill="#10b981" stroke="#fff" stroke-width="1"/><circle cx="1102.1" cy="680.8" r="3.7" fill="#10b981" stroke="#fff" stroke-width="1"/><circle cx="1136" cy="668.5" r="3.7" fill="#10b981" stroke="#fff" stroke-width="1"/><circle cx="1169.8" cy="712.5" r="3.7" fill="#10b981" stroke="#fff" stroke-width="1"/><circle cx="1203.7" cy="697.9" r="3.7" fill="#10b981" stroke="#fff" stroke-width="1"/><circle cx="1237.6" cy="695.4" r="3.7" fill="#10b981" stroke="#fff" stroke-width="1"/><circle cx="1271.5" cy="697.9" r="3.7" fill="#10b981" stroke="#fff" stroke-width="1"/><path d="M451 1095.7H972" stroke="#e3e6ea" stroke-width="1" stroke-dasharray="3 3"/><path d="M451 1169.1H972" stroke="#e3e6ea" stroke-width="1" stroke-dasharray="3 3"/><path d="M451 1206.9H972" stroke="#e3e6ea" stroke-width="1" stroke-dasharray="3 3"/><path d="M451 1245.1H972" stroke="#e3e6ea" stroke-width="1" stroke-dasharray="3 3"/><path d="M451.00,1181.90C466.83,1181.12 482.67,1180.33 498.50,1177.20C514.20,1174.09 529.90,1130.59 545.60,1129.20C561.47,1127.80 577.33,1127.10 593.20,1127.10C608.90,1127.10 624.60,1206.00 640.30,1206.00C656.13,1206.00 671.97,1189.50 687.80,1189.50C703.67,1189.50 719.53,1189.50 735.40,1189.50C751.23,1189.50 767.07,1148.30 782.90,1148.30C798.60,1148.30 814.30,1162.85 830.00,1168.70C845.83,1174.60 861.67,1180.03 877.50,1183.50C893.23,1186.95 908.97,1185.50 924.70,1189.50C940.40,1193.49 956.10,1203.60 971.80,1213.70" stroke="#4f86ee" stroke-width="2.4" stroke-dasharray="5.5 3.5"/><circle cx="451" cy="1181.9" r="2.4" fill="#4f86ee" stroke="#fff" stroke-width="1"/><circle cx="498.5" cy="1177.2" r="2.4" fill="#4f86ee" stroke="#fff" stroke-width="1"/><circle cx="545.6" cy="1129.2" r="2.4" fill="#4f86ee" stroke="#fff" stroke-width="1"/><circle cx="593.2" cy="1127.1" r="2.4" fill="#4f86ee" stroke="#fff" stroke-width="1"/><circle cx="640.3" cy="1206" r="2.4" fill="#4f86ee" stroke="#fff" stroke-width="1"/><circle cx="687.8" cy="1189.5" r="2.4" fill="#4f86ee" stroke="#fff" stroke-width="1"/><circle cx="735.4" cy="1189.5" r="2.4" fill="#4f86ee" stroke="#fff" stroke-width="1"/><circle cx="782.9" cy="1148.3" r="2.4" fill="#4f86ee" stroke="#fff" stroke-width="1"/><circle cx="830" cy="1168.7" r="2.4" fill="#4f86ee" stroke="#fff" stroke-width="1"/><circle cx="877.5" cy="1183.5" r="2.4" fill="#4f86ee" stroke="#fff" stroke-width="1"/><circle cx="924.7" cy="1189.5" r="2.4" fill="#4f86ee" stroke="#fff" stroke-width="1"/><circle cx="971.8" cy="1213.7" r="2.4" fill="#4f86ee" stroke="#fff" stroke-width="1"/><path d="M451.00,1127.50C466.83,1128.42 482.67,1129.33 498.50,1133.00C514.20,1136.64 529.90,1176.37 545.60,1183.10C561.47,1189.90 577.33,1193.30 593.20,1193.30C608.90,1193.30 624.60,1167.80 640.30,1167.80C656.13,1167.80 671.97,1199.70 687.80,1199.70C703.67,1199.70 719.53,1150.00 735.40,1150.00C751.23,1150.00 767.07,1175.05 782.90,1185.70C798.60,1196.26 814.30,1213.70 830.00,1213.70C845.83,1213.70 861.67,1128.00 877.50,1128.00C893.23,1128.00 908.97,1131.10 924.70,1137.30C940.40,1143.49 956.10,1167.99 971.80,1192.50" stroke="#10b981" stroke-width="2.4"/><circle cx="451" cy="1127.5" r="2.6" fill="#10b981" stroke="#fff" stroke-width="1"/><circle cx="498.5" cy="1133" r="2.6" fill="#10b981" stroke="#fff" stroke-width="1"/><circle cx="545.6" cy="1183.1" r="2.6" fill="#10b981" stroke="#fff" stroke-width="1"/><circle cx="593.2" cy="1193.3" r="2.6" fill="#10b981" stroke="#fff" stroke-width="1"/><circle cx="640.3" cy="1167.8" r="2.6" fill="#10b981" stroke="#fff" stroke-width="1"/><circle cx="687.8" cy="1199.7" r="2.6" fill="#10b981" stroke="#fff" stroke-width="1"/><circle cx="735.4" cy="1150" r="2.6" fill="#10b981" stroke="#fff" stroke-width="1"/><circle cx="782.9" cy="1185.7" r="2.6" fill="#10b981" stroke="#fff" stroke-width="1"/><circle cx="830" cy="1213.7" r="2.6" fill="#10b981" stroke="#fff" stroke-width="1"/><circle cx="877.5" cy="1128" r="2.6" fill="#10b981" stroke="#fff" stroke-width="1"/><circle cx="924.7" cy="1137.3" r="2.6" fill="#10b981" stroke="#fff" stroke-width="1"/><circle cx="971.8" cy="1192.5" r="2.6" fill="#10b981" stroke="#fff" stroke-width="1"/></svg>
<div class="b" style="left:0px;top:1459px;width:1390px;height:377px;background:#fff;border-top:1px solid #e5e7eb;"></div>
<svg class="i" style="left:0;top:1500px" width="120" height="70" viewBox="0 1500 120 70" fill="none"><circle cx="89.5" cy="1539.9" r="16" fill="#dc5a28"/><path d="M80.1 1544.5 84.6 1538.1 88.9 1544.5M85.9 1540.1 90.7 1533.1 98.9 1544.5" stroke="#fff" stroke-width="1.9" stroke-linecap="square"/></svg>
<div class="t" style="left:113.22px;top:1532.74px;font-size:14.6px;color:#0f2a3d;font-weight:700;letter-spacing:-0.379px;">Gijima Endurance</div>
<div class="t" style="left:72.86px;top:1571.71px;font-size:12.75px;color:#475569;font-weight:400;letter-spacing:0.003px;">Gijima Endurance is a training and coaching platform that helps</div>
<div class="t" style="left:72.67px;top:1590.71px;font-size:12.75px;color:#475569;font-weight:400;letter-spacing:0.007px;">runners of all levels achieve their goals.</div>
<div class="t" style="left:72.48px;top:1622.41px;font-size:12.75px;color:#475569;font-weight:0.05;">Built for runners, by runners. <span style="color:#d9541e">Seriously</span>.</div>
<div class="b" style="left:73.5px;top:1690.2px;width:8.0px;height:8.0px;background:#86dfb8;border-radius:50%;"></div>
<div class="t" style="left:85.90px;top:1688.05px;font-size:12.7px;color:#64748b;font-weight:400;letter-spacing:0.03px;">All systems operational</div>
<div class="t" style="left:705.27px;top:1526.33px;font-size:11.3px;color:#0f2a3d;font-weight:700;letter-spacing:0.029px;">NAVIGATION</div>
<div class="t" style="left:704.93px;top:1558.66px;font-size:13.4px;color:#475569;font-weight:400;letter-spacing:0.29px;">Dashboard</div>
<div class="t" style="left:704.79px;top:1590.51px;font-size:13.4px;color:#475569;font-weight:400;letter-spacing:0.291px;">Insights &amp; Analytics</div>
<div class="t" style="left:705.73px;top:1622.36px;font-size:13.4px;color:#475569;font-weight:400;letter-spacing:0.227px;">Training Schedule</div>
<div class="t" style="left:705.93px;top:1654.21px;font-size:13.4px;color:#475569;font-weight:400;letter-spacing:0.281px;">Workout Library</div>
<div class="t" style="left:705.33px;top:1686.06px;font-size:13.4px;color:#475569;font-weight:400;letter-spacing:0.162px;">Goals &amp; Targets</div>
<div class="t" style="left:921.49px;top:1526.33px;font-size:11.3px;color:#0f2a3d;font-weight:700;letter-spacing:-0.268px;">TOOLS &amp; RESOURCES</div>
<div class="t" style="left:921.33px;top:1558.66px;font-size:13.4px;color:#475569;font-weight:400;letter-spacing:0.281px;">Training Tools</div>
<div class="t" style="left:921.60px;top:1590.51px;font-size:13.4px;color:#475569;font-weight:400;letter-spacing:0.165px;">Age Grading Calculator</div>
<div class="t" style="left:921.60px;top:1622.36px;font-size:13.4px;color:#475569;font-weight:400;letter-spacing:0.179px;">Ask Gijima AI</div>
<div class="t" style="left:920.53px;top:1654.21px;font-size:13.4px;color:#475569;font-weight:400;letter-spacing:0.347px;">Premium Add-Ons</div>
<div class="t" style="left:920.53px;top:1686.06px;font-size:13.4px;color:#475569;font-weight:400;letter-spacing:-0.213px;">FAQ</div>
<div class="t" style="left:1136.82px;top:1526.33px;font-size:11.3px;color:#0f2a3d;font-weight:700;letter-spacing:-0.367px;">ACCOUNT</div>
<div class="t" style="left:1136.03px;top:1558.66px;font-size:13.4px;color:#475569;font-weight:400;letter-spacing:0.308px;">Profile Settings</div>
<div class="t" style="left:1136.50px;top:1590.51px;font-size:13.4px;color:#475569;font-weight:400;letter-spacing:0.203px;">Send Feedback</div>
<div class="t" style="left:1136.03px;top:1622.36px;font-size:13.4px;color:#475569;font-weight:400;letter-spacing:0.268px;">Help &amp; Support</div>
<div class="b" style="left:73.5px;top:1752px;width:1232.0px;height:1px;background:#e5e7eb;"></div>
<div class="t" style="left:73.71px;top:1778.61px;font-size:12.75px;color:#64748b;font-weight:400;letter-spacing:-0.005px;">&copy; 2025 Gijima Endurance</div>
<div class="t" style="left:235.08px;top:1778.61px;font-size:12.75px;color:#64748b;font-weight:400;letter-spacing:0.05px;">Privacy</div>
<div class="t" style="left:294.05px;top:1778.61px;font-size:12.75px;color:#64748b;font-weight:400;letter-spacing:0.08px;">Terms</div>
<div class="t" style="left:344.86px;top:1778.61px;font-size:12.75px;color:#64748b;font-weight:400;letter-spacing:0.13px;">Contact</div>
<div class="t" style="left:963.34px;top:1778.61px;font-size:12.75px;color:#64748b;font-weight:400;letter-spacing:0.248px;">v0.90.0</div>
<div class="t" style="left:1022.99px;top:1778.61px;font-size:12.75px;color:#64748b;font-weight:400;">&bull;</div>
<div class="t" style="left:1044.48px;top:1778.61px;font-size:12.75px;color:#64748b;font-weight:400;letter-spacing:-0.003px;">Based out of Louisville, CO</div>
<div class="t" style="left:1214.29px;top:1778.61px;font-size:12.75px;color:#64748b;font-weight:400;">&bull;</div>
<div class="t" style="left:1237.24px;top:1778.61px;font-size:12.75px;color:#64748b;font-weight:400;">What we believe</div>
<div class="b" style="left:0px;top:1786px;width:1390px;height:50px;background:linear-gradient(to bottom, rgba(234,236,239,0) 0%, rgba(234,236,239,.3) 50%, rgba(232,234,237,.8) 100%);"></div>
<div class="b" style="left:1255.1px;top:1773px;width:126.30000000000018px;height:46.799999999999955px;background:#fff;border:1px solid #e3e6ea;border-radius:10px;box-shadow:0 3px 8px rgba(15,23,42,.09);"></div>
<svg class="i" style="left:1270.1px;top:1785.7px;" width="22.1" height="22.1" viewBox="0 0 24 24" fill="none" stroke="#3b4a5c" stroke-width="1.75" stroke-linecap="round" stroke-linejoin="round"><path d="M21 15a2 2 0 0 1-2 2H7l-4 4V5a2 2 0 0 1 2-2h14a2 2 0 0 1 2 2z"/></svg>
<div class="t" style="left:1298.15px;top:1789.21px;font-size:14.4px;color:#334155;font-weight:400;letter-spacing:0.477px;-webkit-text-stroke:0.25px #334155;">Feedback</div>
<div class="b" style="left:-4.5px;top:1783.4px;width:38.2px;height:38.2px;border-radius:50%;background:#323438;border:1.2px dashed #4d5d6e;"></div>
<svg class="i" style="left:0;top:1790px" width="30" height="26" viewBox="0 0 30 26" fill="none"><path d="M9.6 19.5V7.6l10.6 12.6" stroke="#fff" stroke-width="1.9"/><path d="M20 7.4v7.4" stroke="url(#ng)" stroke-width="1.9"/><defs><linearGradient id="ng" x1="0" y1="7" x2="0" y2="15" gradientUnits="userSpaceOnUse"><stop offset="0" stop-color="#fff"/><stop offset="1" stop-color="#fff" stop-opacity="0"/></linearGradient></defs></svg>
</body></html>
